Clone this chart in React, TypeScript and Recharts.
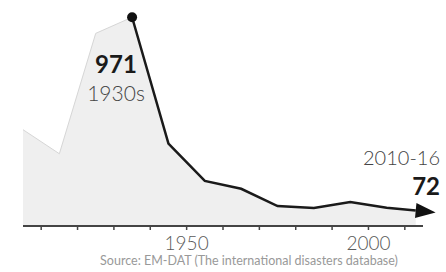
import React from "react";
import {
  ComposedChart,
  Area,
  Line,
  XAxis,
  YAxis,
  ReferenceDot,
} from "recharts";

// decade midpoints (2013 = 2010-16)
const YEARS = [1905, 1915, 1925, 1935, 1945, 1955, 1965, 1975, 1985, 1995, 2005, 2013];
// deaths per year (thousands)
const DEATHS = [448, 336, 896, 971, 383, 210, 173, 93, 84, 112, 85, 72];
const LINE_FROM = 1935;
const TICKS = [1910, 1920, 1930, 1940, 1950, 1960, 1970, 1980, 1990, 2000, 2010];
const TICK_LABELS = [1950, 2000];

const data = YEARS.map((year, i) => ({
  year,
  total: DEATHS[i],
  line: year >= LINE_FROM ? DEATHS[i] : null,
}));

const FONT = "Lato, 'Open Sans', sans-serif";

const AxisTick = (props: any) => {
  const { x, y, payload } = props;
  if (!TICK_LABELS.includes(payload.value)) return null;
  return (
    <text
      x={x}
      y={y + 18}
      textAnchor="middle"
      fontSize={19}
      fontFamily={FONT}
      fontWeight={300}
      fill="#5a5a5a"
    >
      {payload.value}
    </text>
  );
};

const App = () => {
  return (
    <div style={{ position: "relative", width: 446, height: 272, background: "#fff" }}>
      <style>{`body{margin:0}`}</style>
      <ComposedChart
        width={446}
        height={272}
        data={data}
        margin={{ top: 11, right: 23, left: 23, bottom: 0 }}
      >
        <defs>
          <marker
            id="arrowHead"
            markerUnits="userSpaceOnUse"
            markerWidth={22}
            markerHeight={16}
            refX={0}
            refY={7.5}
            orient="auto"
            overflow="visible"
          >
            <path d="M0,0 L20,7.5 L0,15 z" fill="#111" />
          </marker>
        </defs>
        <XAxis
          dataKey="year"
          type="number"
          domain={[1905, 2015]}
          ticks={TICKS}
          height={46}
          axisLine={{ stroke: "#444", strokeWidth: 2 }}
          tickLine={{ stroke: "#444", strokeWidth: 1.5 }}
          tickSize={4}
          tick={<AxisTick />}
          interval={0}
        />
        <YAxis hide domain={[0, 1000]} />
        <Area
          type="linear"
          dataKey="total"
          stroke="#d6d6d6"
          strokeWidth={1}
          fill="#efefef"
          fillOpacity={1}
          isAnimationActive={false}
        />
        <Line
          type="linear"
          dataKey="line"
          stroke="#1a1a1a"
          strokeWidth={2.5}
          dot={false}
          connectNulls={false}
          markerEnd="url(#arrowHead)"
          isAnimationActive={false}
        />
        <ReferenceDot x={1935} y={971} r={5} fill="#111" stroke="none" />
      </ComposedChart>
      <svg
        width={446}
        height={272}
        style={{ position: "absolute", left: 0, top: 0, pointerEvents: "none" }}
      >
        <text x={116} y={73} textAnchor="middle" fontSize={24} fontWeight={700} fontFamily={FONT} fill="#1a1a1a">
          971
        </text>
        <text x={116} y={101} textAnchor="middle" fontSize={21} fontWeight={300} fontFamily={FONT} fill="#444">
          1930s
        </text>
        <text x={440} y={165} textAnchor="end" fontSize={20} fontWeight={300} fontFamily={FONT} fill="#444">
          2010-16
        </text>
        <text x={440} y={195} textAnchor="end" fontSize={24} fontWeight={700} fontFamily={FONT} fill="#1a1a1a">
          72
        </text>
        <text x={249} y={265} textAnchor="middle" fontSize={12.5} fontFamily={FONT} fill="#999">
          Source: EM-DAT (The international disasters database)
        </text>
      </svg>
    </div>
  );
};

export default App;
